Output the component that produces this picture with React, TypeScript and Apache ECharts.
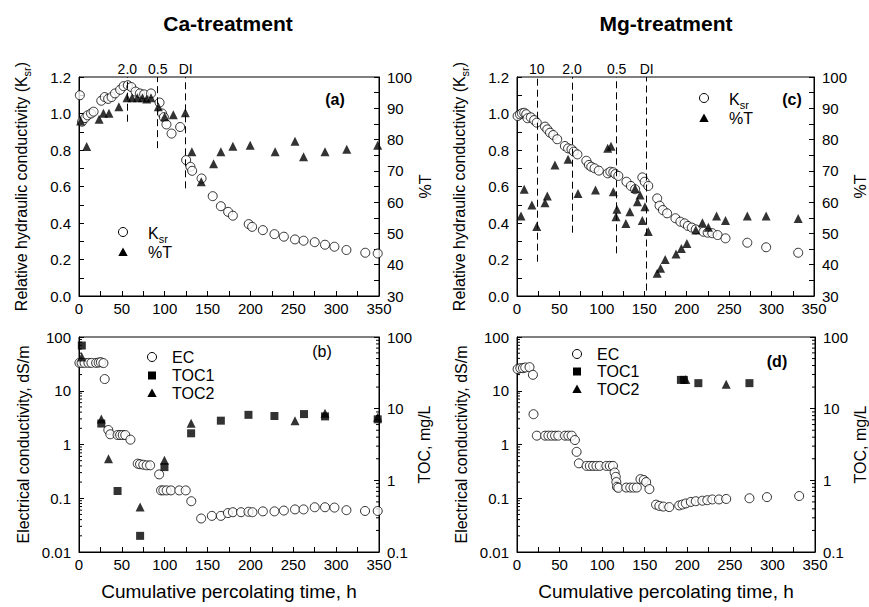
import React, { useEffect, useRef } from "react";
import * as echarts from "echarts";

const FONT = '"Liberation Sans", Arial, Helvetica, sans-serif';

// ---------- Data (x: cumulative percolating time, h) ----------
const caKsr: number[][] = [
  [1.0, 1.10], [3.5, 0.955], [7, 0.975], [10, 0.99], [14, 1.0], [17, 1.01], [26, 1.07], [30, 1.09], [34, 1.08], [38, 1.09],
  [42, 1.11], [48, 1.13], [52, 1.15], [57, 1.155], [61, 1.145], [66, 1.12], [71, 1.11], [76, 1.105], [84, 1.11], [94, 1.06],
  [97, 1.0], [99, 0.98], [102, 0.94], [108, 0.89], [118, 0.926], [125, 0.745], [130, 0.708], [132, 0.686], [143, 0.644],
  [156, 0.547], [165.5, 0.492], [174, 0.461], [179.5, 0.44], [198, 0.394], [202, 0.379], [214.5, 0.361], [228, 0.339],
  [239, 0.325], [252, 0.31], [262, 0.303], [275, 0.295], [287, 0.281], [298, 0.27], [312, 0.252], [334, 0.237], [348.5, 0.233],
];
const caT: number[][] = [
  [2, 85.9], [9, 77.8], [23.5, 86.5], [28.5, 88.4], [35, 88.4], [46.5, 90.5], [56, 93.4], [62, 93.4], [68, 93.4], [74, 93.4],
  [79, 93.0], [84, 93.4], [92.5, 90.5], [100, 87.3], [110, 87.9], [124, 88.6], [131.7, 76.1], [142.6, 66.5], [157, 72.3],
  [165.5, 76.1], [179.5, 77.9], [199.7, 78.2], [228.8, 76.1], [252, 79.5], [262, 74.5], [287, 76.1], [312.4, 76.9], [348.5, 78.2],
];
const caEC: number[][] = [
  [0.5, 33], [3, 33], [6.5, 33], [11, 33], [14.5, 33], [20, 33], [23, 33.5], [25.5, 34], [28.5, 32.7], [30, 16.5],
  [34.2, 1.86], [36.5, 1.55], [45, 1.5], [48, 1.5], [51, 1.5], [54, 1.5], [60, 1.23], [68.5, 0.44], [71.2, 0.43], [75, 0.42],
  [79, 0.41], [83, 0.41], [93.5, 0.278], [95.7, 0.14], [98.4, 0.14], [102.3, 0.14], [107.3, 0.14], [117, 0.14], [124.5, 0.14],
  [131, 0.088], [142.5, 0.042], [155, 0.047], [165.5, 0.047], [173.7, 0.053], [179.5, 0.055], [189, 0.055], [197.7, 0.056],
  [202.4, 0.055], [214.5, 0.057], [228, 0.057], [239, 0.059], [252, 0.062], [262, 0.062], [275, 0.068], [287, 0.068],
  [298, 0.067], [312, 0.06], [333.7, 0.058], [348.5, 0.058],
];
const caTOC1: number[][] = [
  [3.3, 76], [26, 6.2], [45, 0.71], [71.3, 0.168], [99.7, 1.53], [130.8, 4.53], [165.5, 6.8], [197.7, 8.2], [228, 7.9],
  [262.5, 8.4], [287, 7.8], [348.5, 7.1],
];
const caTOC2: number[][] = [
  [3.3, 52.5], [26, 7.2], [34.4, 2.0], [71.3, 0.426], [99.7, 1.9], [130.8, 6.25], [252, 6.8], [287, 8.6], [348.5, 7.6],
];
const mgKsr: number[][] = [
  [0.7, 0.986], [3.5, 0.995], [5.8, 1.001], [8.5, 1.004], [10.9, 0.996], [12.4, 0.974], [16.3, 0.979], [20.2, 0.964],
  [23.3, 0.95], [33, 0.928], [35.7, 0.913], [38.9, 0.895], [42.7, 0.882], [47.4, 0.859], [56.4, 0.822], [60.2, 0.809],
  [64.2, 0.804], [66.9, 0.791], [71.2, 0.776], [81.7, 0.741], [84.7, 0.718], [87.5, 0.708], [91.4, 0.7], [96.4, 0.687],
  [106.9, 0.672], [110, 0.681], [113.5, 0.678], [115.9, 0.668], [119.4, 0.658], [129, 0.626], [134.2, 0.603], [139.2, 0.585],
  [147.7, 0.65], [150.5, 0.626], [154.7, 0.603], [165.2, 0.535], [168, 0.495], [171.9, 0.471], [176.9, 0.453], [186.7, 0.426],
  [192.5, 0.407], [197.5, 0.398], [201.4, 0.384], [206, 0.375], [210.7, 0.365], [219.7, 0.352], [224.7, 0.347], [230.2, 0.344],
  [236.4, 0.334], [245.7, 0.316], [271.4, 0.292], [293.6, 0.267], [331.4, 0.237],
];
const mgT: number[][] = [
  [4.7, 55.6], [8.5, 64.1], [17.5, 59.1], [23.3, 52.2], [33, 59.8], [35.7, 62.0], [44.7, 71.9], [60.2, 73.7], [71.9, 62.8],
  [92.5, 63.9], [106.9, 77.2], [110.8, 77.9], [113.5, 63.3], [116.7, 55.3], [117.8, 57.7], [128.3, 53.2], [133, 56.9],
  [139.2, 64.4], [141.9, 60.1], [145, 62.3], [147.7, 54.1], [150.8, 58.5], [154.7, 50.6], [165.2, 37.3], [169.2, 38.9],
  [174.6, 41.7], [187.4, 43.4], [193.7, 45.2], [200.2, 46.8], [210.7, 51.1], [218.5, 53.4], [225.5, 52.0], [235.2, 55.6],
  [245.7, 54.1], [271.4, 55.6], [293.6, 55.6], [331.4, 54.8],
];
const mgEC: number[][] = [
  [0.7, 25.3], [3.9, 26.3], [7, 26.3], [9.7, 27.1], [14.7, 27.5], [18.7, 19.8], [19.4, 3.66], [23.3, 1.46], [33, 1.46],
  [36.9, 1.46], [40.8, 1.46], [44.7, 1.46], [48.5, 1.46], [56.4, 1.46], [60.3, 1.46], [64.2, 1.46], [68, 1.21], [70, 0.73],
  [72.7, 0.446], [81.7, 0.4], [85.5, 0.4], [89.4, 0.4], [93.3, 0.4], [97.2, 0.4], [105, 0.4], [109, 0.4], [112.7, 0.4],
  [114.7, 0.3], [116, 0.25], [116.7, 0.2], [117.4, 0.163], [119, 0.156], [128.3, 0.158], [133, 0.158], [136.9, 0.158],
  [140.7, 0.158], [145, 0.227], [148.9, 0.219], [151.7, 0.2], [155.5, 0.148], [163.3, 0.076], [167.2, 0.072], [171.8, 0.07],
  [178.8, 0.0685], [190.5, 0.0735], [194.4, 0.0765], [198.3, 0.08], [204.2, 0.0855], [210, 0.088], [217.7, 0.09],
  [223.5, 0.092], [229.4, 0.095], [237.2, 0.095], [245.7, 0.097], [273, 0.1], [293.6, 0.105], [331.4, 0.11],
];
const mgTOC1: number[][] = [[192.5, 25.2], [196, 25.2], [213, 22.7], [273, 22.7]];
const mgTOC2: number[][] = [[198.3, 25.5], [245.7, 22.0]];

// solution-change markers: [x, lower end of dashed line, label]
const caMarks: [number, number, string][] = [[56.4, 0.955, "2.0"], [91.8, 0.81, "0.5"], [124.4, 0.59, "DI"]];
const mgMarks: [number, number, string][] = [[23.3, 0.188, "10"], [64.9, 0.347, "2.0"], [117.4, 0.234, "0.5"], [152.8, 0.03, "DI"]];

// ---------- helpers ----------
const logLabel = (v: number) => {
  const e = Math.round(Math.log10(v));
  return e < 0 ? Math.pow(10, e).toFixed(-e) : String(Math.round(Math.pow(10, e)));
};
const minorLogTicks = (e0: number, e1: number) => {
  const out: number[] = [];
  for (let e = e0; e < e1; e++) for (let k = 2; k <= 9; k++) out.push(k * Math.pow(10, e));
  return out;
};

const black = "#000";
const lbl = { color: black, fontSize: 15, fontFamily: FONT };
const richSub = {
  a: { fontSize: 16, fontFamily: FONT, color: black, fill: black, lineHeight: 22 },
  s: { fontSize: 11, fontFamily: FONT, color: black, fill: black, lineHeight: 12, verticalAlign: "bottom" },
};
const nameStyle = { color: black, fontSize: 16, fontFamily: FONT, rich: richSub };

const xAxis = (gridIndex: number, named: boolean) => ({
  type: "value", gridIndex, min: 0, max: 350, interval: 50,
  axisLine: { show: true, onZero: false, lineStyle: { color: black, width: 1 } },
  axisTick: { show: true, inside: true, length: 5, lineStyle: { color: black } },
  minorTick: { show: true, splitNumber: 2, length: 5, lineStyle: { color: black } },
  splitLine: { show: false },
  axisLabel: { ...lbl, margin: 5 },
  name: named ? "Cumulative percolating time, h" : "",
  nameLocation: "middle", nameGap: 30,
  nameTextStyle: { color: black, fontSize: 19, fontFamily: FONT },
});

const linAxis = (gridIndex: number, pos: string, min: number, max: number, interval: number, name: string, gap: number, dec: number) => ({
  type: "value", gridIndex, position: pos, min, max, interval,
  axisLine: { show: true, onZero: false, lineStyle: { color: black } },
  axisTick: { show: true, inside: true, length: 5, lineStyle: { color: black } },
  minorTick: { show: true, splitNumber: 2, length: 5, lineStyle: { color: black } },
  splitLine: { show: false },
  axisLabel: { ...lbl, margin: 8, formatter: (v: number) => v.toFixed(dec) },
  name, nameLocation: "middle", nameGap: gap, nameRotate: 90, nameTextStyle: nameStyle,
});

const logAxis = (gridIndex: number, pos: string, min: number, max: number, name: string, gap: number) => ({
  type: "log", logBase: 10, gridIndex, position: pos, min, max,
  axisLine: { show: true, onZero: false, lineStyle: { color: black } },
  axisTick: { show: true, inside: true, length: 5, lineStyle: { color: black } },
  minorTick: { show: false },
  splitLine: { show: false },
  axisLabel: { ...lbl, margin: 8, formatter: logLabel },
  name, nameLocation: "middle", nameGap: gap, nameRotate: 90, nameTextStyle: nameStyle,
});

const circleStyle = { color: "#fff", borderColor: black, borderWidth: 1 };
const fillStyle = { color: black };

const scatter = (name: string, data: number[][], xi: number, yi: number, symbol: string, size: number, style: any, extra: any = {}) => ({
  type: "scatter", name, data, xAxisIndex: xi, yAxisIndex: yi, symbol, symbolSize: size, itemStyle: style,
  silent: true, ...extra,
});

const markLines = (marks: [number, number, string][], top: number) => ({
  symbol: ["none", "none"], silent: true,
  lineStyle: { color: black, type: [7, 4], width: 1 },
  label: { show: true, position: "end", formatter: "{b}", color: black, fontSize: 14, fontFamily: FONT, distance: 1 },
  data: marks.map(([x, y0, n]) => [{ coord: [x, y0], name: n }, { coord: [x, top] }]),
});

const tickSeries = (xi: number, yi: number, ticks: number[], xPos: number) => ({
  type: "custom", xAxisIndex: xi, yAxisIndex: yi, silent: true,
  data: ticks.map((v) => [xPos, v]),
  renderItem: (_p: any, api: any) => {
    const x = api.value(0);
    const p = api.coord([x, api.value(1)]);
    const dir = x > 0 ? -1 : 1;
    return { type: "line", shape: { x1: p[0], y1: p[1], x2: p[0] + dir * 3, y2: p[1] }, style: { stroke: black, lineWidth: 1 } };
  },
});

// graphic legend helpers
const gCircle = (x: number, y: number) => ({ type: "circle", shape: { cx: x, cy: y, r: 4.5 }, style: { fill: "#fff", stroke: black, lineWidth: 1 } });
const gTri = (x: number, y: number) => ({ type: "polygon", shape: { points: [[x, y - 4.5], [x + 4.7, y + 4], [x - 4.7, y + 4]] }, style: { fill: black } });
const gSq = (x: number, y: number) => ({ type: "rect", shape: { x: x - 4, y: y - 4, width: 8, height: 8 }, style: { fill: black } });
const gText = (x: number, y: number, text: string, size = 16, weight = "normal", align = "left") => ({
  type: "text", x, y,
  style: {
    text, fill: black, fontSize: size, fontFamily: FONT, fontWeight: weight, align, verticalAlign: "middle",
    textAlign: align, textVerticalAlign: "middle", rich: richSub,
  },
});

export default function App() {
  const ref = useRef<HTMLDivElement>(null);
  useEffect(() => {
    if (!ref.current) return;
    const chart = echarts.init(ref.current, null, { renderer: "svg" });
    const gridBase = { show: true, borderColor: black, borderWidth: 1, backgroundColor: "transparent" };
    const ksrName = "{a|Relative hydraulic conductivity (K}{s|sr}{a|)}";
    const option: any = {
      animation: false,
      backgroundColor: "#fff",
      textStyle: { fontFamily: FONT },
      grid: [
        { ...gridBase, left: 79, top: 77, width: 300, height: 219 },
        { ...gridBase, left: 79, top: 337, width: 300, height: 215 },
        { ...gridBase, left: 517, top: 77, width: 300, height: 219 },
        { ...gridBase, left: 517, top: 337, width: 300, height: 215 },
      ],
      xAxis: [xAxis(0, false), xAxis(1, true), xAxis(2, false), xAxis(3, true)],
      yAxis: [
        linAxis(0, "left", 0, 1.2, 0.2, ksrName, 47, 1),
        linAxis(0, "right", 30, 100, 10, "%T", 38, 0),
        logAxis(1, "left", 0.01, 100, "Electrical conductivity, dS/m", 48),
        logAxis(1, "right", 0.1, 100, "TOC, mg/L", 37),
        linAxis(2, "left", 0, 1.2, 0.2, ksrName, 47, 1),
        linAxis(2, "right", 30, 100, 10, "%T", 38, 0),
        logAxis(3, "left", 0.01, 100, "Electrical conductivity, dS/m", 48),
        logAxis(3, "right", 0.1, 100, "TOC, mg/L", 37),
      ],
      series: [
        scatter("Ksr", caKsr, 0, 0, "circle", 9, circleStyle, { markLine: markLines(caMarks, 1.2) }),
        scatter("%T", caT, 0, 1, "triangle", 9, fillStyle),
        scatter("EC", caEC, 1, 2, "circle", 9, circleStyle),
        scatter("TOC1", caTOC1, 1, 3, "rect", 8, fillStyle),
        scatter("TOC2", caTOC2, 1, 3, "triangle", 9, fillStyle),
        scatter("Ksr", mgKsr, 2, 4, "circle", 9, circleStyle, { markLine: markLines(mgMarks, 1.2) }),
        scatter("%T", mgT, 2, 5, "triangle", 9, fillStyle),
        scatter("EC", mgEC, 3, 6, "circle", 9, circleStyle),
        scatter("TOC1", mgTOC1, 3, 7, "rect", 8, fillStyle),
        scatter("TOC2", mgTOC2, 3, 7, "triangle", 9, fillStyle),
        tickSeries(1, 2, minorLogTicks(-2, 2), 0),
        tickSeries(1, 3, minorLogTicks(-1, 2), 350),
        tickSeries(3, 6, minorLogTicks(-2, 2), 0),
        tickSeries(3, 7, minorLogTicks(-1, 2), 350),
      ],
      graphic: [
        gText(228, 23, "Ca-treatment", 21, "bold", "center"),
        gText(666, 23, "Mg-treatment", 21, "bold", "center"),
        gText(335, 99, "(a)", 16, "bold", "center"),
        gText(322, 351, "(b)", 16, "normal", "center"),
        gText(792, 99, "(c)", 16, "bold", "center"),
        gText(777, 361, "(d)", 16, "bold", "center"),
        // legend a
        gCircle(123, 232), gText(148, 233, "{a|K}{s|sr}"),
        gTri(123, 252), gText(148, 252, "%T"),
        // legend b
        gCircle(152, 357), gText(172, 357, "EC"),
        gSq(152, 375.5), gText(172, 375.5, "TOC1"),
        gTri(152, 393), gText(172, 393, "TOC2"),
        // legend c
        gCircle(704, 98), gText(729, 99, "{a|K}{s|sr}"),
        gTri(704, 118), gText(729, 118, "%T"),
        // legend d
        gCircle(577, 354), gText(597, 354, "EC"),
        gSq(577, 371.5), gText(597, 371.5, "TOC1"),
        gTri(577, 389), gText(597, 389, "TOC2"),
      ],
    };
    chart.setOption(option);
    return () => chart.dispose();
  }, []);
  return <div ref={ref} style={{ position: "fixed", left: 0, top: 0, width: 869, height: 607 }} />;
}
